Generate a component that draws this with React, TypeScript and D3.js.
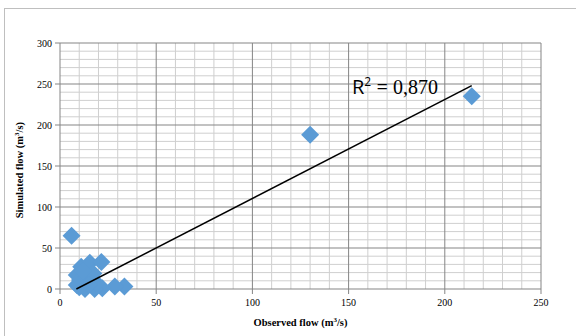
import React from 'react';
import * as d3 from 'd3';

// observed / simulated flow pairs (m3/s)
const observed = [6, 130, 214, 11, 15.5, 21.5, 33.5, 28.5, 22, 18, 13, 8.7, 8.7, 10.4, 13.8, 17.3, 19, 14.7, 12, 10];
const simulated = [65, 188, 235, 27, 32, 33, 3, 3, 1, 0, 0, 5, 17, 11, 15, 19, 7, 5, 22, 2];

// linear trend line (from the chart)
const trendX = [8.5, 214];
const trendSlope = 1.207;
const trendIntercept = -10.3;
const r2Label = '0,870';

const xTicks = [0, 50, 100, 150, 200, 250];
const yTicks = [0, 50, 100, 150, 200, 250, 300];

const App = () => {
  const width = 576;
  const height = 336;
  const margin = { top: 43, right: 35, bottom: 47, left: 60 };

  const x = d3.scaleLinear().domain([0, 250]).range([margin.left, width - margin.right]);
  const y = d3.scaleLinear().domain([0, 300]).range([height - margin.bottom, margin.top]);

  const minorX = d3.range(0, 251, 10).filter(v => v % 50 !== 0);
  const minorY = d3.range(0, 301, 10).filter(v => v % 50 !== 0);

  const serif = '"Liberation Serif", "Times New Roman", serif';
  const sans = '"Open Sans", "Liberation Sans", Arial, sans-serif';

  // square diamond marker
  const diamond = 'M0,-9L9,0L0,9L-9,0Z';
  const points = observed.map((o, i) => ({ o, s: simulated[i] }));

  return (
    <svg width={width} height={height} style={{ position: 'absolute', left: 0, top: 0 }}>
      <rect x={0} y={0} width={width} height={height} fill="#fff" />
      <rect x={4.5} y={8.5} width={width} height={height} fill="none" stroke="#bfbfbf" strokeWidth={1} />

      {/* minor grid */}
      {minorX.map(v => (
        <line key={'mx' + v} x1={x(v)} x2={x(v)} y1={y(0)} y2={y(300)} stroke="#cfcfcf" strokeWidth={1} />
      ))}
      {minorY.map(v => (
        <line key={'my' + v} x1={x(0)} x2={x(250)} y1={y(v)} y2={y(v)} stroke="#cfcfcf" strokeWidth={1} />
      ))}
      {/* major grid */}
      {xTicks.map(v => (
        <line key={'gx' + v} x1={x(v)} x2={x(v)} y1={y(0)} y2={y(300)} stroke="#858585" strokeWidth={1} />
      ))}
      {yTicks.map(v => (
        <line key={'gy' + v} x1={x(0)} x2={x(250)} y1={y(v)} y2={y(v)} stroke="#858585" strokeWidth={1} />
      ))}

      {/* ticks + labels */}
      {xTicks.map(v => (
        <g key={'tx' + v}>
          <line x1={x(v)} x2={x(v)} y1={y(0)} y2={y(0) + 5} stroke="#858585" />
          <text x={x(v)} y={y(0) + 17} textAnchor="middle" fontFamily={serif} fontSize={10} fill="#000">{v}</text>
        </g>
      ))}
      {yTicks.map(v => (
        <g key={'ty' + v}>
          <line x1={x(0) - 5} x2={x(0)} y1={y(v)} y2={y(v)} stroke="#858585" />
          <text x={x(0) - 8} y={y(v) + 3.5} textAnchor="end" fontFamily={serif} fontSize={10} fill="#000">{v}</text>
        </g>
      ))}

      {/* points */}
      {points.map((p, i) => (
        <path key={i} d={diamond} transform={`translate(${x(p.o)},${y(p.s)})`} fill="#5b9bd5" />
      ))}

      {/* trend line */}
      <line
        x1={x(trendX[0])} y1={y(trendSlope * trendX[0] + trendIntercept)}
        x2={x(trendX[1])} y2={y(trendSlope * trendX[1] + trendIntercept)}
        stroke="#000" strokeWidth={1.5}
      />
      <text x={352} y={94} fontSize={20} fill="#000">
        <tspan fontFamily={sans}>R</tspan>
        <tspan fontFamily={sans} fontSize={12} dy={-8}>2</tspan>
        <tspan fontFamily={sans} dy={8}> = </tspan>
        <tspan fontFamily={serif}>{r2Label}</tspan>
      </text>

      {/* axis titles */}
      <text x={x(125)} y={326} textAnchor="middle" fontFamily={serif} fontSize={10.5} fontWeight="bold" fill="#000">
        Observed flow (m<tspan fontSize={7} dy={-4}>3</tspan><tspan dy={4}>/s)</tspan>
      </text>
      <text transform={`translate(23,${y(145)}) rotate(-90)`} textAnchor="middle" fontFamily={serif} fontSize={10.5} fontWeight="bold" fill="#000">
        Simulated flow (m<tspan fontSize={7} dy={-4}>3</tspan><tspan dy={4}>/s)</tspan>
      </text>
    </svg>
  );
};

export default App;
